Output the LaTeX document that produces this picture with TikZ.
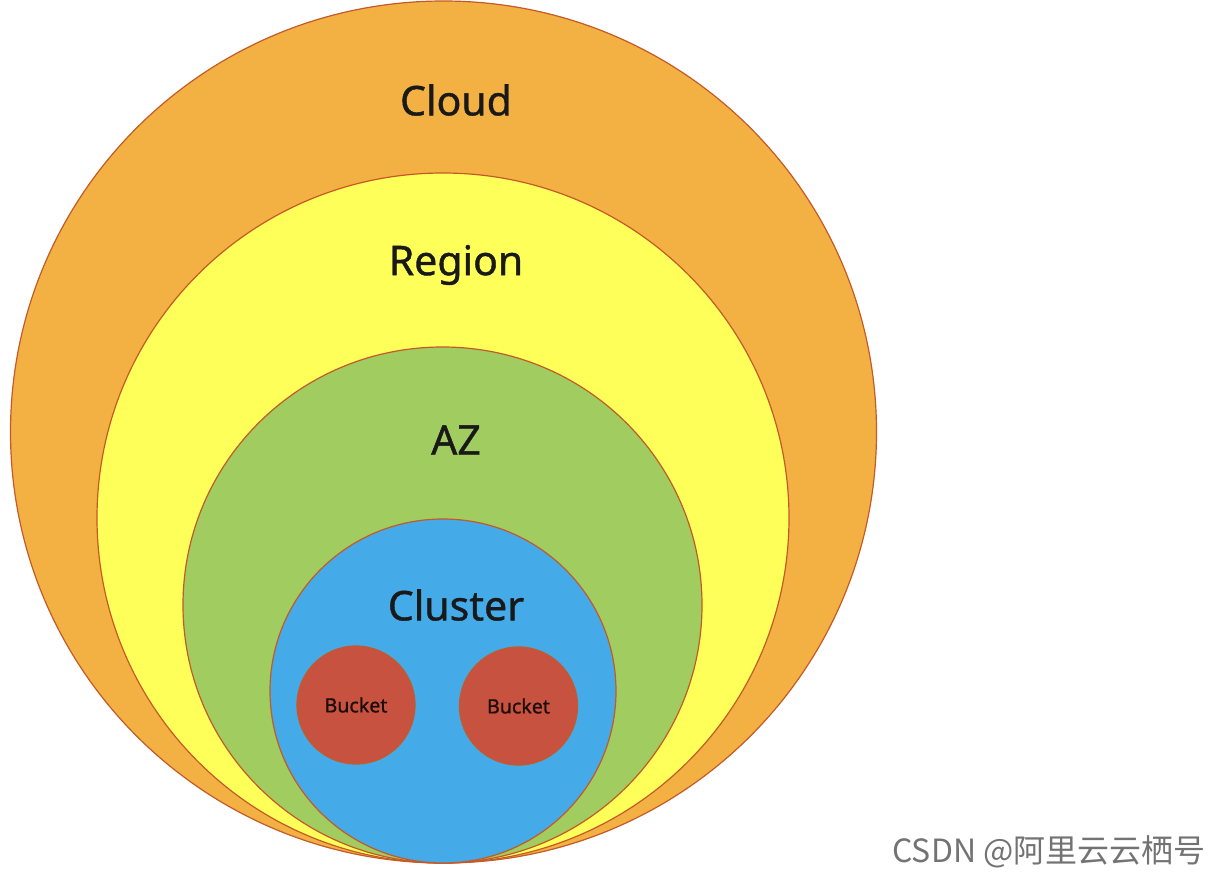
\documentclass[tikz,border=0pt]{standalone}
\usepackage{fontspec}
\setmainfont{Noto Sans}
\newfontfamily\heavy[FakeBold=0.9]{Noto Sans}
\newfontfamily\cjk{Noto Sans CJK SC}
\usetikzlibrary{shapes}

\definecolor{cloudc}{RGB}{243,176,67}
\definecolor{regionc}{RGB}{255,255,90}
\definecolor{azc}{RGB}{160,204,96}
\definecolor{clusterc}{RGB}{68,170,232}
\definecolor{bucketc}{RGB}{199,82,64}
\definecolor{rimc}{RGB}{196,90,40}

\begin{document}
\begin{tikzpicture}[x=0.5pt,y=-0.5pt]
		\tikzstyle{ring}=[draw=rimc, line width=0.6pt, ellipse, inner sep=0pt, outer sep=0pt]
		\tikzstyle{lbl}=[font=\fontsize{20.5}{24}\selectfont\heavy, text=black!90]
		\useasboundingbox (0,0) rectangle (1232,884);
		
		\node[ring, fill=cloudc, minimum width=433pt, minimum height=431pt] (cloud) at (443.5, 432) {};
		\node[ring, fill=regionc, minimum width=346pt, minimum height=345pt] (region) at (443, 518) {};
		\node[ring, fill=azc, minimum width=259.5pt, minimum height=258pt] (az) at (442.5, 605) {};
		\node[ring, fill=clusterc, minimum width=173pt, minimum height=172pt] (cluster) at (443, 691) {};
		
		\node[ring, fill=bucketc, minimum width=59pt, minimum height=59pt] (bucket1) at (356, 705) {};
		\node[ring, fill=bucketc, minimum width=59pt, minimum height=59pt] (bucket2) at (518.5, 706) {};
		
		\node[lbl] (cloudtxt) at (456, 100) {Cloud};
		\node[lbl] (regiontxt) at (456, 265) {Region};
		\node[lbl] (aztxt) at (456, 440) {AZ};
		\node[lbl] (clustertxt) at (456, 605) {Cluster};
		\node[font=\fontsize{9.8}{12}\selectfont\heavy, text=black!85!bucketc] (bucket1txt) at (bucket1) {Bucket};
		\node[font=\fontsize{9.8}{12}\selectfont\heavy, text=black!85!bucketc] (bucket2txt) at (bucket2) {Bucket};
		
		\node[font=\fontsize{16}{18}\selectfont\cjk, text=black!55] (mark) at (1049, 852) {CSDN @阿里云云栖号};
	\end{tikzpicture}
\end{document}
